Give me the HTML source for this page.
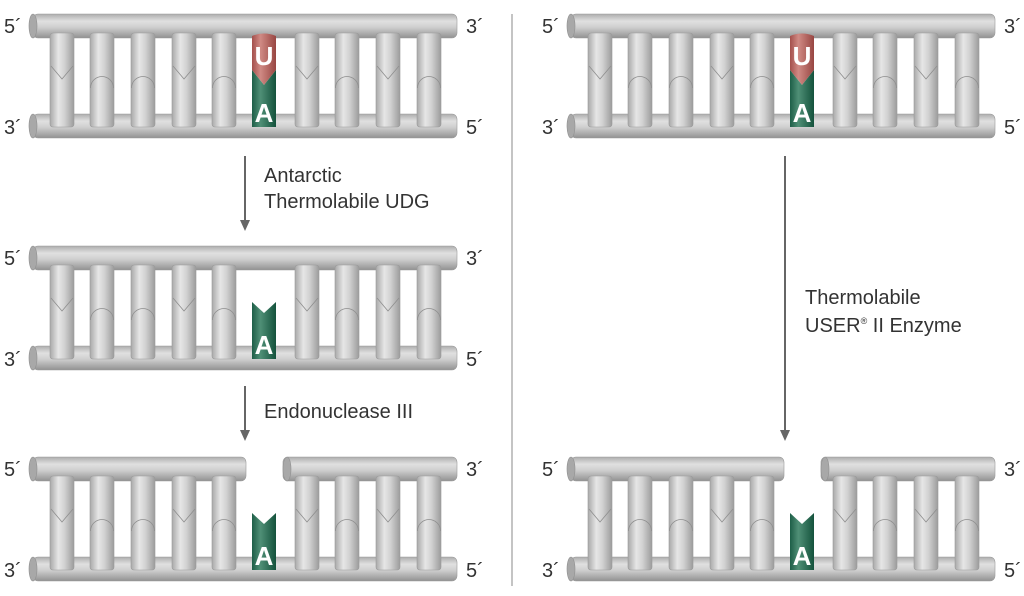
<!DOCTYPE html>
<html><head><meta charset="utf-8"><style>
html,body{margin:0;padding:0;background:#fff;width:1024px;height:596px;overflow:hidden}
text{font-family:"Liberation Sans",Arial,sans-serif}
</style></head><body>
<svg width="1024" height="596" viewBox="0 0 1024 596" xmlns="http://www.w3.org/2000/svg">
<defs>
<linearGradient id="rod" x1="0" y1="0" x2="0" y2="1">
<stop offset="0" stop-color="#adadad"/><stop offset="0.3" stop-color="#e0e0e0"/><stop offset="0.55" stop-color="#cfcfcf"/><stop offset="1" stop-color="#929292"/>
</linearGradient>
<linearGradient id="rung" x1="0" y1="0" x2="1" y2="0">
<stop offset="0" stop-color="#a9a9a9"/><stop offset="0.35" stop-color="#e6e6e6"/><stop offset="0.6" stop-color="#d2d2d2"/><stop offset="1" stop-color="#9c9c9c"/>
</linearGradient>
<linearGradient id="red" x1="0" y1="0" x2="1" y2="0">
<stop offset="0" stop-color="#a4504c"/><stop offset="0.35" stop-color="#d08a84"/><stop offset="1" stop-color="#984642"/>
</linearGradient>
<linearGradient id="grn" x1="0" y1="0" x2="1" y2="0">
<stop offset="0" stop-color="#1d5e47"/><stop offset="0.35" stop-color="#4f8f76"/><stop offset="1" stop-color="#14523c"/>
</linearGradient>
<g id="rv"><rect x="0" y="33" width="24" height="94" rx="3" fill="url(#rung)" stroke="#9a9a9a" stroke-width="0.6"/><path d="M1,66 L12,79 L23,66" fill="none" stroke="#8e8e8e" stroke-width="0.8"/></g>
<g id="ra"><rect x="0" y="33" width="24" height="94" rx="3" fill="url(#rung)" stroke="#9a9a9a" stroke-width="0.6"/><path d="M0.5,88 A11.5,11.5 0 0 1 23.5,88" fill="none" stroke="#8e8e8e" stroke-width="0.8"/></g>
<g id="A"><path d="M0,70 L12,81 L24,70 L24,127 L0,127 Z" fill="url(#grn)"/><text x="12" y="122" font-size="26" font-weight="bold" fill="#fff" text-anchor="middle">A</text></g>
<g id="UA"><path d="M0,36 Q12,31 24,36 L24,70 L12,85 L0,70 Z" fill="url(#red)"/><path d="M0,70 L12,85 L24,70 L24,127 L0,127 Z" fill="url(#grn)"/><text x="12" y="65" font-size="26" font-weight="bold" fill="#fff" text-anchor="middle">U</text><text x="12" y="122" font-size="26" font-weight="bold" fill="#fff" text-anchor="middle">A</text></g>
<g id="topfull"><rect x="33" y="14" width="424" height="24" rx="5" fill="url(#rod)" stroke="#9a9a9a" stroke-width="0.6"/><ellipse cx="33" cy="26" rx="4" ry="12" fill="#a8a8a8" stroke="#909090" stroke-width="0.6"/></g>
<g id="topcut"><rect x="33" y="14" width="213" height="24" rx="5" fill="url(#rod)" stroke="#9a9a9a" stroke-width="0.6"/><ellipse cx="33" cy="26" rx="4" ry="12" fill="#a8a8a8" stroke="#909090" stroke-width="0.6"/><rect x="283" y="14" width="174" height="24" rx="5" fill="url(#rod)" stroke="#9a9a9a" stroke-width="0.6"/><ellipse cx="287" cy="26" rx="4" ry="12" fill="#a8a8a8" stroke="#909090" stroke-width="0.6"/></g>
<g id="bot"><rect x="33" y="114" width="424" height="24" rx="5" fill="url(#rod)" stroke="#9a9a9a" stroke-width="0.6"/><ellipse cx="33" cy="126" rx="4" ry="12" fill="#a8a8a8" stroke="#909090" stroke-width="0.6"/></g>
<g id="rungs"><use href="#rv" x="50"/><use href="#ra" x="90"/><use href="#ra" x="131"/><use href="#rv" x="172"/><use href="#ra" x="212"/><use href="#rv" x="295"/><use href="#ra" x="335"/><use href="#rv" x="376"/><use href="#ra" x="417"/></g>
<g id="lbl" font-size="20" fill="#333"><text x="4" y="33">5´</text><text x="4" y="134">3´</text><text x="466" y="33">3´</text><text x="466" y="134">5´</text></g>
<g id="L1"><use href="#topfull"/><use href="#bot"/><use href="#rungs"/><use href="#UA" x="252"/><use href="#lbl"/></g>
<g id="L3"><use href="#topcut"/><use href="#bot"/><use href="#rungs"/><use href="#A" x="252"/><use href="#lbl"/></g>
</defs>
<use href="#L1"/>
<g transform="translate(0,232)"><use href="#topfull"/><use href="#bot"/><use href="#rungs"/><use href="#A" x="252"/><use href="#lbl"/></g>
<use href="#L3" y="443"/>
<use href="#L1" x="538"/>
<use href="#L3" x="538" y="443"/>
<line x1="512" y1="14" x2="512" y2="586" stroke="#888" stroke-width="1"/>
<g stroke="#666" stroke-width="2" fill="#666">
<line x1="245" y1="156" x2="245" y2="222"/><path d="M240,220 L250,220 L245,231 Z" stroke="none"/>
<line x1="245" y1="386" x2="245" y2="432"/><path d="M240,430 L250,430 L245,441 Z" stroke="none"/>
<line x1="785" y1="156" x2="785" y2="432"/><path d="M780,430 L790,430 L785,441 Z" stroke="none"/>
</g>
<g font-size="20" fill="#333">
<text x="264" y="182">Antarctic</text>
<text x="264" y="208">Thermolabile UDG</text>
<text x="264" y="418">Endonuclease III</text>
<text x="805" y="304">Thermolabile</text>
<text x="805" y="332">USER<tspan font-size="9" dy="-8">®</tspan><tspan dy="8"> II Enzyme</tspan></text>
</g>
</svg>
</body></html>
